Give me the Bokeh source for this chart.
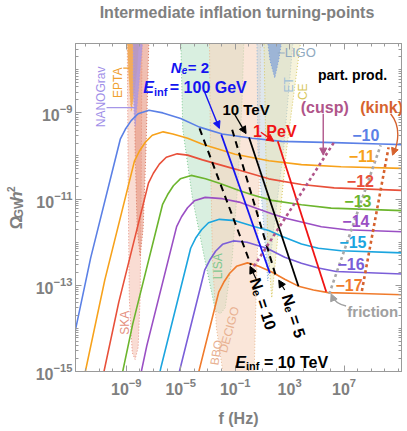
import numpy as np
from bokeh.plotting import figure
from bokeh.layouts import row, column
from bokeh.models import (FixedTicker, LogAxis, Label, Arrow, NormalHead,
                          CustomJSTickFormatter, Range1d)
from bokeh.embed import file_html
from bokeh.resources import INLINE

FONT = "Liberation Sans"
GRAY = "#808080"

# ---------------- data (log10 f [Hz], log10 Omega_GW h^2) ----------------
curve_names = ["−10", "−11", "−12", "−13", "−14", "−15", "−16", "−17"]
curve_colors = ["#5b80e6", "#f7a21b", "#e8503a", "#6cb52d", "#9a4fc4", "#1ba5df", "#7a5ed8", "#f07b2c"]

c10_lf = [-13.36, -11.62, -9.44, -9.07, -8.64, -8.13, -7.33, -6.31, -5.00, -3.62, -1.95, 0.24, 2.42, 6.27, 9.69, 11.5]
c10_lo = [-14.97, -12.37, -9.61, -9.38, -9.18, -9.02, -8.94, -9.00, -9.13, -9.33, -9.49, -9.59, -9.66, -9.69, -9.72, -9.74]
c11_lf = [-12.33, -10.58, -8.40, -8.04, -7.60, -7.09, -6.29, -5.58, -4.49, -3.40, -1.00, 1.47, 3.87, 6.78, 11.5]
c11_lo = [-15.48, -12.88, -10.12, -9.89, -9.68, -9.52, -9.44, -9.49, -9.59, -9.73, -9.96, -10.11, -10.20, -10.25, -10.29]
c12_lf = [-11.30, -9.55, -7.37, -7.01, -6.57, -6.06, -5.26, -4.49, -3.40, -0.93, 1.47, 3.87, 6.27, 11.5]
c12_lo = [-15.98, -13.39, -10.63, -10.40, -10.19, -10.03, -9.95, -9.98, -10.09, -10.31, -10.53, -10.66, -10.74, -10.80]
c13_lf = [-10.26, -8.52, -6.34, -5.97, -5.54, -5.03, -4.23, -3.18, -2.16, -0.71, 0.24, 1.69, 3.87, 6.05, 11.5]
c13_lo = [-16.49, -13.89, -11.13, -10.90, -10.69, -10.53, -10.45, -10.53, -10.63, -10.80, -10.90, -11.03, -11.13, -11.21, -11.27]
c14_lf = [-9.23, -7.49, -5.30, -4.94, -4.50, -4.00, -3.20, -1.95, -0.71, 0.60, 1.69, 2.78, 3.87, 5.33, 7.15, 11.5]
c14_lo = [-16.99, -14.40, -11.64, -11.41, -11.20, -11.04, -10.96, -10.99, -11.07, -11.22, -11.34, -11.45, -11.53, -11.64, -11.71, -11.76]
c15_lf = [-8.20, -6.45, -4.27, -3.91, -3.47, -2.96, -2.16, -1.00, 0.45, 1.47, 2.42, 3.87, 5.11, 6.78, 11.5]
c15_lo = [-17.50, -14.90, -12.14, -11.91, -11.71, -11.55, -11.47, -11.50, -11.64, -11.73, -11.86, -12.04, -12.14, -12.20, -12.25]
c16_lf = [-7.17, -5.42, -3.24, -2.87, -2.44, -1.93, -1.13, -0.13, 1.33, 2.64, 3.87, 5.11, 6.42, 11.5]
c16_lo = [-18.00, -15.41, -12.65, -12.42, -12.21, -12.05, -11.97, -12.00, -12.14, -12.35, -12.49, -12.60, -12.68, -12.74]
c17_lf = [-6.13, -4.39, -2.21, -1.84, -1.40, -0.90, -0.10, 0.60, 1.69, 2.64, 3.65, 4.75, 5.84, 8.24, 11.5]
c17_lo = [-18.51, -15.91, -13.16, -12.93, -12.72, -12.56, -12.48, -12.54, -12.69, -12.86, -13.02, -13.11, -13.17, -13.19, -13.22]

curves_lf = [c10_lf, c11_lf, c12_lf, c13_lf, c14_lf, c15_lf, c16_lf, c17_lf]
curves_lo = [c10_lo, c11_lo, c12_lo, c13_lo, c14_lo, c15_lo, c16_lo, c17_lo]
name_lf = [8.60, 8.31, 8.20, 8.02, 7.87, 7.65, 7.51, 7.36]
name_lo = [-9.52, -10.00, -10.58, -11.04, -11.50, -12.00, -12.51, -12.99]

# turning-point lines
einf100_lf, einf100_lo = [-2.02, 1.55], [-9.50, -12.72]
einf10t_lf, einf10t_lo = [0.02, 3.65], [-9.57, -13.02]
einf1p_lf, einf1p_lo = [2.13, 5.69], [-9.66, -13.15]
ne10_lf, ne10_lo = [-3.62, 0.16], [-9.36, -12.53]
ne5_lf, ne5_lo = [-1.22, 2.05], [-9.39, -12.85]
cusp_lf, cusp_lo = [0.38, 6.27], [-12.56, -9.68]
kink_lf, kink_lo = [8.31, 10.27], [-13.13, -9.80]
fric_lf, fric_lo = [5.91, 9.69], [-13.20, -9.75]

# detector sensitivity regions
ska_lf = [-8.93, -8.85, -8.78, -8.56, -8.35, -8.13, -7.98, -7.91, -7.84]
ska_lo = [-7.2, -10.99, -13.29, -14.56, -14.72, -14.44, -13.29, -10.99, -7.2]
pta_lf = [-8.42, -8.35, -8.20, -7.98, -7.76, -7.55, -7.33]
pta_lo = [-7.2, -9.84, -11.68, -12.33, -11.68, -9.84, -7.2]
epta_lf = [-8.93, -8.85, -8.71, -8.64, -8.49, -8.20, -8.05]
epta_lo = [-7.2, -8.0, -8.69, -8.97, -8.69, -8.0, -7.2]
nano_lf = [-8.49, -8.49, -8.42, -8.35, -8.20, -7.98, -7.76]
nano_lo = [-7.2, -8.46, -9.04, -9.31, -8.81, -8.0, -7.2]
lisa_lf = [-5.0, -4.85, -4.13, -3.25, -2.45, -2.09, -1.73, -1.22, -0.78, -0.49, -0.35]
lisa_lo = [-7.2, -9.38, -10.99, -12.37, -13.59, -13.66, -13.52, -12.37, -10.53, -8.69, -7.2]
deci_lf = [-2.89, -2.82, -2.67, -2.38, -1.8, 0.38, 0.53, 0.75, 0.89]
deci_lo = [-7.2, -9.84, -12.37, -13.98, -15.24, -15.24, -13.29, -10.99, -7.2]
et_lf = [0.6, 0.67, 1.11, 1.4, 1.84, 2.56, 3.29]
et_lo = [-7.2, -9.84, -11.68, -12.90, -11.68, -9.84, -7.2]
ce_lf = [1.11, 1.25, 1.4, 1.69, 2.05, 2.78, 3.87]
ce_lo = [-7.2, -9.84, -12.14, -13.29, -12.14, -9.84, -7.2]
ligo_lf = [1.33, 1.55, 1.91, 2.2, 2.49]
ligo_lo = [-7.2, -7.77, -8.19, -7.77, -7.2]

x_major = [-9, -5, -1, 3, 7]
y_major = [-9, -11, -13, -15]


def P(a):
    return 10.0 ** np.asarray(a, dtype=float)


TH = 24          # title strip height
H = 405          # main plot height
LW = 32          # y-title strip width
W = 373          # main plot width

p = figure(width=W, height=H, x_axis_type="log", y_axis_type="log", title=None,
           x_range=(10 ** -12.73, 10 ** 11.22), y_range=(1e-15, 10 ** -7.39),
           output_backend="svg", toolbar_location=None,
           min_border_left=72 - LW, min_border_right=4, min_border_top=43 - TH, min_border_bottom=56,
           background_fill_color="white", border_fill_color="white")
p.outline_line_color = "#9a9a9a"
p.grid.visible = False

xminor = [10.0 ** k for k in range(-13, 12)]
yminor = [10.0 ** k * m for k in range(-16, -6) for m in range(1, 10)]
xt = FixedTicker(ticks=list(P(x_major)), minor_ticks=xminor)
yt = FixedTicker(ticks=list(P(y_major)), minor_ticks=yminor)

for ax, tk in ((p.xaxis[0], xt), (p.yaxis[0], yt)):
    ax.ticker = tk
    ax.major_label_text_font = FONT
    ax.major_label_text_font_style = "bold"
    ax.major_label_text_font_size = "16px"
    ax.major_label_text_color = GRAY
    ax.axis_line_color = "#9a9a9a"
    ax.major_tick_line_color = "#9a9a9a"
    ax.minor_tick_line_color = "#9a9a9a"
    ax.major_tick_in = 6
    ax.major_tick_out = 0
    ax.minor_tick_in = 3
    ax.minor_tick_out = 0
p.yaxis.major_label_standoff = 3
p.xaxis.major_label_standoff = 6
p.xaxis.axis_label = "f (Hz)"
p.xaxis.axis_label_text_font = FONT
p.xaxis.axis_label_text_font_style = "bold"
p.xaxis.axis_label_text_font_size = "16px"
p.xaxis.axis_label_text_color = GRAY
p.xaxis.axis_label_standoff = 12

blank = CustomJSTickFormatter(code="return ''")
for loc, tk in (("right", yt), ("above", xt)):
    ax = LogAxis(ticker=tk, formatter=blank, major_tick_in=6, major_tick_out=0,
                 minor_tick_in=3, minor_tick_out=0, major_label_standoff=0,
                 axis_line_color="#9a9a9a", major_tick_line_color="#9a9a9a",
                 minor_tick_line_color="#9a9a9a")
    p.add_layout(ax, loc)

# ---------------- detector regions ----------------
regions = [
    (ska_lf, ska_lo, "#f4bfae", 0.55, "#e59080"),
    (pta_lf, pta_lo, "#e38a72", 0.55, "#d87a62"),
    (epta_lf, epta_lo, "#f0a040", 0.8, "#f5b060"),
    (nano_lf, nano_lo, "#a596e8", 0.75, "#a596e8"),
    (lisa_lf, lisa_lo, "#bfe5cb", 0.6, "#7cc890"),
    (deci_lf, deci_lo, "#f6d6c0", 0.6, "#e8b890"),
    (et_lf, et_lo, "#c2d3df", 0.55, "#8fb5d8"),
    (ce_lf, ce_lo, "#ece5b0", 0.45, "#d8c860"),
    (ligo_lf, ligo_lo, "#7f9fd8", 0.7, "#7f9fd8"),
]
for lf, lo, fc, fa, lc in regions:
    p.patch(P(lf), P(lo), fill_color=fc, fill_alpha=fa, line_color=lc,
            line_width=1, line_dash="1 2")

# ---------------- curves ----------------
for lf, lo, c in zip(curves_lf, curves_lo, curve_colors):
    p.line(P(lf), P(lo), line_color=c, line_width=1.6)

p.line(P(ne10_lf), P(ne10_lo), line_color="black", line_width=2, line_dash="7 5")
p.line(P(ne5_lf), P(ne5_lo), line_color="black", line_width=2, line_dash="7 5")
p.line(P(einf100_lf), P(einf100_lo), line_color="#1414f0", line_width=1.8)
p.line(P(einf10t_lf), P(einf10t_lo), line_color="black", line_width=1.8)
p.line(P(einf1p_lf), P(einf1p_lo), line_color="#f01414", line_width=1.8)
p.line(P(cusp_lf), P(cusp_lo), line_color="#b0558a", line_width=2.6, line_dash="3 3")
p.line(P(kink_lf), P(kink_lo), line_color="#d6622e", line_width=2.6, line_dash="3 3")
p.line(P(fric_lf), P(fric_lo), line_color="#a8a8a8", line_width=2.6, line_dash="3 3")


def txt(lf, lo, s, color, size=16, style="bold", angle=0.0, align="left", base="alphabetic"):
    p.add_layout(Label(x=10 ** lf, y=10 ** lo, text=s, text_color=color, text_font=FONT,
                       text_font_size=f"{size}px", text_font_style=style, angle=angle,
                       text_align=align, text_baseline=base))


def arrow(x0, y0, x1, y1, color, head=True, width=1.4):
    kw = dict(x_start=10 ** x0, y_start=10 ** y0, x_end=10 ** x1, y_end=10 ** y1,
              line_color=color, line_width=width)
    kw["end"] = NormalHead(size=7, fill_color=color, line_color=color) if head else None
    p.add_layout(Arrow(**kw))


for n, c, lf, lo in zip(curve_names, curve_colors, name_lf, name_lo):
    txt(lf, lo, n, c, 16, "bold", align="center", base="middle")

BLUE = "#1414f0"
txt(-5.73, -7.94, "N", BLUE, 15, "bold italic")
txt(-4.93, -8.01, "e", BLUE, 10, "bold italic")
txt(-4.48, -7.94, "= 2", BLUE, 15, "bold")
txt(-7.76, -8.42, "E", BLUE, 16, "bold italic")
txt(-6.96, -8.51, "inf", BLUE, 11, "bold")
txt(-5.80, -8.42, "= 100 GeV", BLUE, 16, "bold")
arrow(-3.25, -8.51, -2.16, -9.36, BLUE)
txt(-0.20, -8.92, "10 TeV", "black", 15, "bold", align="center")
arrow(-1.07, -9.02, -0.20, -9.48, "black")
txt(1.91, -9.43, "1 PeV", "#f01414", 16, "bold", align="center")
arrow(0.89, -9.45, 1.84, -9.66, "#f01414")
txt(7.62, -8.12, "part. prod.", "black", 14, "bold", align="center")
txt(5.58, -8.88, "(cusp)", "#b0558a", 16, "bold", align="center")
arrow(5.47, -9.02, 5.47, -9.98, "#b0558a")
txt(9.76, -8.88, "(kink)", "#d6622e", 16, "bold", align="center")
p.bezier(x0=[10 ** 10.42], y0=[10 ** -9.02], x1=[10 ** 10.64], y1=[10 ** -9.96],
         cx0=[10 ** 11.07], cy0=[10 ** -9.27], cx1=[10 ** 11.07], cy1=[10 ** -9.61],
         line_color="#d6622e", line_width=1.4)
arrow(10.71, -9.85, 10.56, -9.98, "#d6622e")
txt(9.11, -13.61, "friction", "#a0a0a0", 15, "bold", align="center")
p.bezier(x0=[10 ** 7.15], y0=[10 ** -13.48], x1=[10 ** 6.13], y1=[10 ** -13.25],
         cx0=[10 ** 6.64], cy0=[10 ** -13.45], cx1=[10 ** 6.27], cy1=[10 ** -13.36],
         line_color="#a0a0a0", line_width=1.4)
arrow(6.20, -13.31, 6.05, -13.20, "#a0a0a0")
txt(-1.00, -14.79, "E", "black", 16, "bold italic")
txt(-0.20, -14.88, "inf", "black", 11, "bold")
txt(1.11, -14.79, "= 10 TeV", "black", 16, "bold")
txt(1.04, -13.43, "Nₑ = 10", "black", 16, "bold", angle=-1.26, align="center", base="middle")
arrow(0.53, -12.85, 0.09, -12.56, "black", width=1.2)
txt(3.29, -13.71, "Nₑ = 5", "black", 16, "bold", angle=-1.26, align="center", base="middle")
arrow(2.64, -13.11, 2.20, -12.88, "black", width=1.2)

txt(-10.89, -8.63, "NANOGrav", "#9f8fe8", 12, "normal", angle=np.pi / 2, align="center", base="middle")
arrow(-10.45, -8.88, -8.27, -8.88, "#a596e8", head=False, width=1.2)
txt(-9.58, -8.30, "EPTA", "#f0a030", 12, "normal", angle=np.pi / 2, align="center", base="middle")
arrow(-9.22, -7.96, -8.78, -7.96, "#f0a030", head=False, width=1.2)
txt(-9.07, -13.87, "SKA", "#e59080", 12, "normal", angle=np.pi / 2, align="center", base="middle")
txt(-2.24, -12.56, "LISA", "#7cc890", 12, "normal", angle=np.pi / 2, align="center", base="middle")
txt(-2.38, -14.56, "BBO", "#e8b090", 12, "normal", angle=1.4, align="center", base="middle")
txt(-1.44, -14.03, "DECIGO", "#e8b090", 12, "normal", angle=1.3, align="center", base="middle")
txt(2.93, -8.35, "ET", "#9fbfd8", 12, "normal", angle=np.pi / 2, align="center", base="middle")
txt(3.95, -8.51, "CE", "#d8c860", 12, "normal", angle=np.pi / 2, align="center", base="middle")
txt(2.64, -7.61, "LIGO", "#8fa9c0", 13, "normal", align="left", base="middle")
arrow(2.13, -7.61, 2.64, -7.61, "#8fa9c0", head=False, width=1.2)


def strip(w, h):
    f = figure(width=w, height=h, x_range=Range1d(0, w), y_range=Range1d(0, h), title=None,
               output_backend="svg", toolbar_location=None, min_border=0,
               x_axis_location=None, y_axis_location=None,
               background_fill_color="white", border_fill_color="white")
    f.outline_line_color = None
    f.grid.visible = False
    return f


# ---------------- title strip ----------------
tfig = strip(LW + W, TH)
tfig.add_layout(Label(x=236.5, y=TH - 12, text="Intermediate inflation turning-points",
                      text_color=GRAY, text_font=FONT, text_font_size="16px",
                      text_font_style="bold", text_align="center", text_baseline="middle"))

# ---------------- y-axis title strip: Omega_GW h^2 ----------------
lab = strip(LW, H)
for (x, y, s, size, style) in [(16, 184, "Ω", 17, "bold"), (18.5, 202, "GW", 12, "bold"),
                               (16, 216, "h", 17, "bold italic"), (10.5, 225, "2", 10, "bold")]:
    lab.add_layout(Label(x=x, y=y, text=s, text_color=GRAY, text_font=FONT,
                         text_font_size=f"{size}px", text_font_style=style, angle=np.pi / 2,
                         text_align="center", text_baseline="middle"))

layout = column(tfig, row(lab, p, spacing=0), spacing=0)
open("out.html", "w").write(file_html(layout, INLINE))
